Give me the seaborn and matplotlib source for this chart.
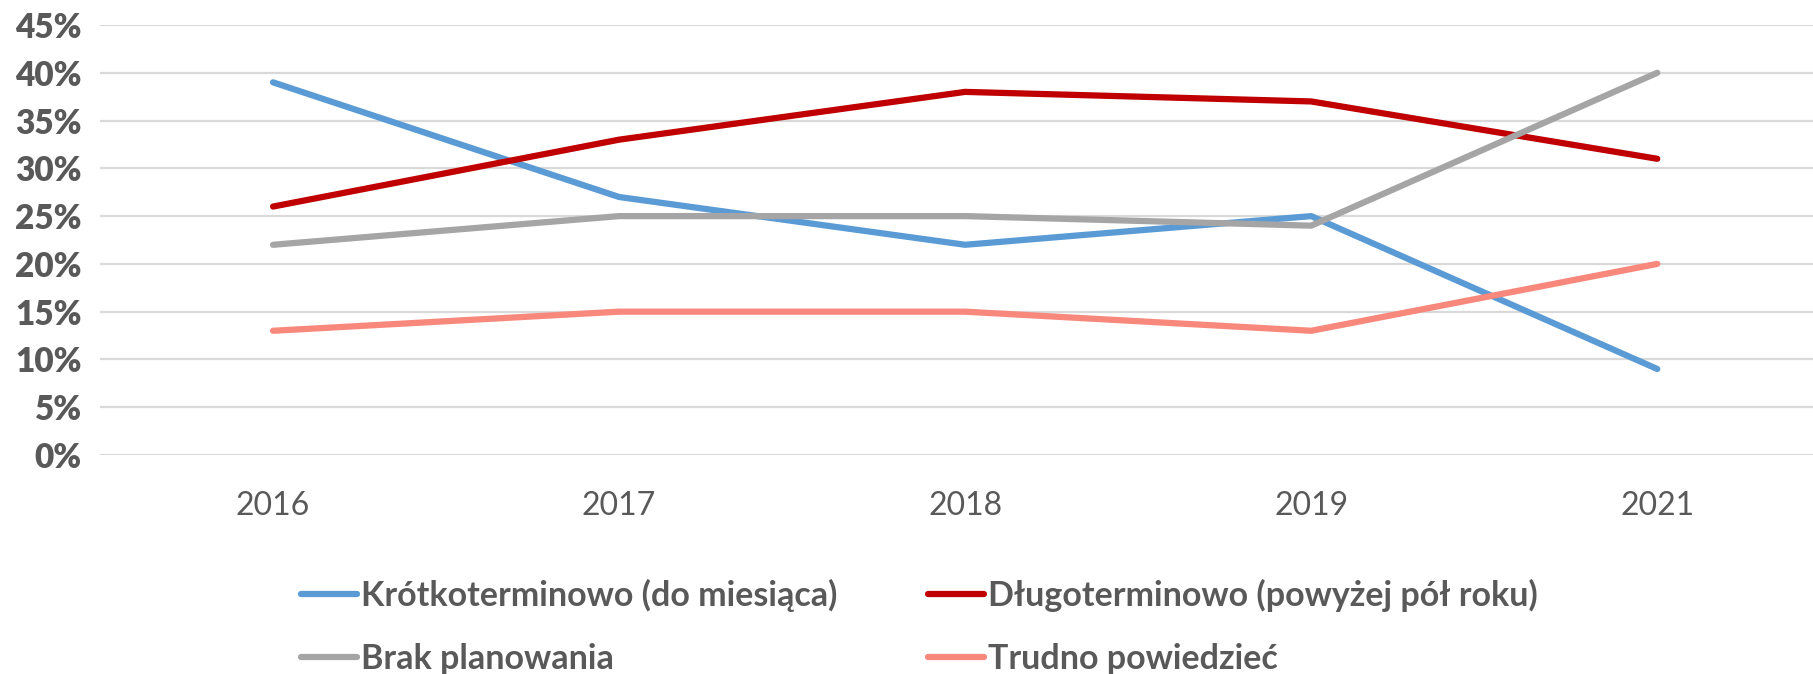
import matplotlib
matplotlib.use("Agg")
import matplotlib.pyplot as plt
import matplotlib.ticker as mtick
import seaborn as sns
import pandas as pd

years = ["2016", "2017", "2018", "2019", "2021"]
series_names = [
    "Krótkoterminowo (do miesiąca)",
    "Długoterminowo (powyżej pół roku)",
    "Brak planowania",
    "Trudno powiedzieć",
]
krotko = [0.39, 0.27, 0.22, 0.25, 0.09]
dlugo = [0.26, 0.33, 0.38, 0.37, 0.31]
brak = [0.22, 0.25, 0.25, 0.24, 0.40]
trudno = [0.13, 0.15, 0.15, 0.13, 0.20]
colors = ["#5B9BD5", "#C00000", "#A5A5A5", "#F8877C"]

rows = []
for name, vals in zip(series_names, [krotko, dlugo, brak, trudno]):
    for y, v in zip(years, vals):
        rows.append({"Rok": y, "Wartość": v, "Seria": name})
df = pd.DataFrame(rows)

sns.set_theme(style="white")
plt.rcParams["font.family"] = ["Lato", "DejaVu Sans"]

fig = plt.figure(figsize=(18.13, 6.74), dpi=100)
ax = fig.add_axes([100 / 1813, 1 - 455 / 674, 1 - 100 / 1813, (455 - 25) / 674])

LW = 4.5
sns.lineplot(data=df, x="Rok", y="Wartość", hue="Seria", hue_order=series_names,
             palette=colors, linewidth=LW, ax=ax, sort=False,
             solid_capstyle="round", legend=True)

ax.set_ylim(0, 0.45)
ax.set_xlim(-0.5, 4.45)
ax.yaxis.set_major_locator(mtick.MultipleLocator(0.05))
ax.yaxis.set_major_formatter(mtick.PercentFormatter(1.0, decimals=0))
ax.grid(axis="y", color="#D9D9D9", linewidth=1.6)
ax.set_axisbelow(True)
for s in ax.spines.values():
    s.set_visible(False)
ax.set_xlabel("")
ax.set_ylabel("")
ax.tick_params(axis="y", length=0, pad=13, labelsize=24, labelcolor="#595959")
ax.tick_params(axis="x", length=0, pad=26, labelsize=23, labelcolor="#595959")
for t in ax.get_yticklabels():
    t.set_fontweight("heavy")

handles, labels = ax.get_legend_handles_labels()
ax.get_legend().remove()
for h in handles:
    h.set_linewidth(LW)
    h.set_solid_capstyle("round")

leg_kw = dict(frameon=False, handlelength=1.65, handletextpad=0.12, labelspacing=0.9,
              borderpad=0, borderaxespad=0,
              prop={"weight": "bold", "size": 24.5}, labelcolor="#595959", loc="center left")
leg1 = fig.legend([handles[0], handles[2]], [labels[0], labels[2]],
                  bbox_to_anchor=(301 / 1813, 1 - 627 / 674), **leg_kw)
leg2 = fig.legend([handles[1], handles[3]], [labels[1], labels[3]],
                  bbox_to_anchor=(928 / 1813, 1 - 627 / 674), **leg_kw)

fig.savefig("out.png", dpi=100)
